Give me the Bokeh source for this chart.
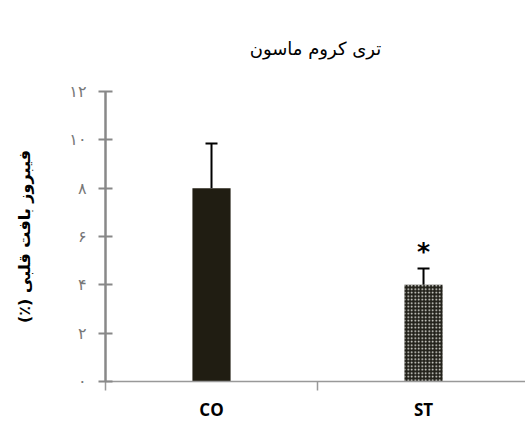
from bokeh.plotting import figure
from bokeh.models import (Range1d, FixedTicker, Whisker, TeeHead,
                          ColumnDataSource)
from bokeh.core.properties import value
from bokeh.embed import file_html
from bokeh.resources import INLINE

# ---- data ----
categories = ["CO", "ST"]
means = [8.0, 4.0]
errors = [1.85, 0.68]
significance = ["", "*"]
y_ticks = [0, 2, 4, 6, 8, 10, 12]
y_tick_labels = ["۰", "۲", "۴", "۶", "۸", "۱۰", "۱۲"]
title_text = "تری کروم ماسون"
y_label = "\u200fفیبروز بافت قلبی (٪)\u200f"

x_centers = [i + 0.5 for i in range(len(categories))]
uppers = [m + e for m, e in zip(means, errors)]

p = figure(width=525, height=423, output_backend="svg", toolbar_location=None,
           x_range=Range1d(0, 1.981), y_range=Range1d(0, 12),
           min_border_left=105, min_border_right=0, min_border_top=91,
           min_border_bottom=41)
p.outline_line_color = None
p.xgrid.visible = False
p.ygrid.visible = False
p.background_fill_color = "white"
p.border_fill_color = "white"

# title
p.title.text = title_text
p.title.align = "center"
p.title.offset = 5
p.title.standoff = 66
p.title.text_font = "DejaVu Sans"
p.title.text_font_style = "normal"
p.title.text_font_size = "18px"
p.title.text_color = "black"

# bars
p.vbar(x=[x_centers[0]], top=[means[0]], width=0.18, bottom=0,
       fill_color="#201d12", line_color=None)
p.vbar(x=[x_centers[1]], top=[means[1]], width=0.18, bottom=0,
       fill_color="#22211a", line_color=None,
       hatch_pattern="dot", hatch_color="#f4f4ee", hatch_scale=3.5,
       hatch_weight=1.3)

# error bars (upper only)
src = ColumnDataSource(dict(x=x_centers, lower=means, upper=uppers))
w = Whisker(source=src, base="x", lower="lower", upper="upper",
            lower_head=None,
            upper_head=TeeHead(size=12, line_width=2, line_color="black"),
            line_width=2, line_color="black")
p.add_layout(w)

# significance markers
p.text(x=x_centers, y=[u + 0.7 for u in uppers], text=significance,
       text_align="center", text_baseline="middle",
       text_font=value("DejaVu Sans"), text_font_style="bold",
       text_font_size="25px", text_color="black")

# x axis
xa = p.xaxis[0]
xa.ticker = FixedTicker(ticks=x_centers, minor_ticks=[0, 1, 2])
xa.major_label_overrides = {x: c for x, c in zip(x_centers, categories)}
xa.major_tick_line_color = None
xa.major_tick_out = 9
xa.major_tick_in = 0
xa.minor_tick_out = 9
xa.minor_tick_in = 0
xa.minor_tick_line_color = "#999999"
xa.minor_tick_line_width = 1.5
xa.axis_line_color = "#999999"
xa.axis_line_width = 1.5
xa.major_label_standoff = 7
xa.major_label_text_font = "Open Sans"
xa.major_label_text_font_style = "bold"
xa.major_label_text_font_size = "17px"
xa.major_label_text_color = "black"

# y axis
ya = p.yaxis[0]
ya.ticker = FixedTicker(ticks=y_ticks)
ya.major_label_overrides = {t: l for t, l in zip(y_ticks, y_tick_labels)}
ya.minor_tick_line_color = None
ya.major_tick_in = 7
ya.major_tick_out = 7
ya.major_tick_line_color = "#888888"
ya.major_tick_line_width = 2
ya.axis_line_color = "#888888"
ya.axis_line_width = 2.5
ya.major_label_standoff = 12
ya.major_label_text_font = "DejaVu Sans"
ya.major_label_text_font_size = "16px"
ya.major_label_text_color = "#777777"
ya.axis_label = y_label
ya.axis_label_standoff = 32
ya.axis_label_text_font = "DejaVu Sans"
ya.axis_label_text_font_style = "bold"
ya.axis_label_text_font_size = "16px"
ya.axis_label_text_color = "black"

open("out.html", "w").write(file_html(p, INLINE))
